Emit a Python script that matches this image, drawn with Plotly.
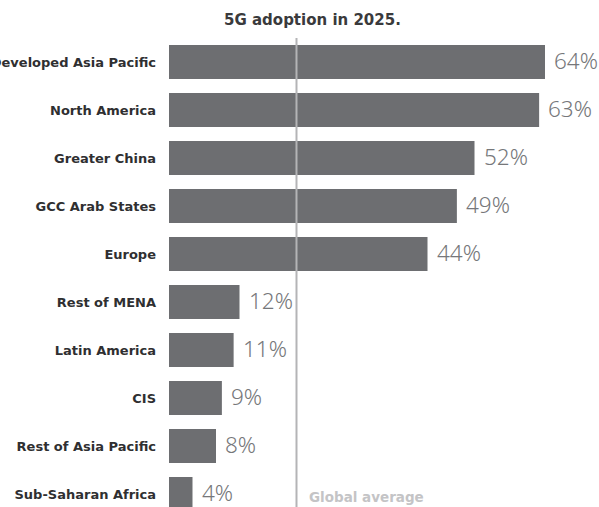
import plotly.graph_objects as go

# 5G adoption share by region, 2025
regions = [
    "Developed Asia Pacific", "North America", "Greater China", "GCC Arab States",
    "Europe", "Rest of MENA", "Latin America", "CIS", "Rest of Asia Pacific",
    "Sub-Saharan Africa",
]
adoption = [64, 63, 52, 49, 44, 12, 11, 9, 8, 4]
global_average = 21.7

BAR = "#6d6e71"
LABEL_FONT = "DejaVu Sans, Verdana, sans-serif"
VALUE_FONT = "Noto Sans, DejaVu Sans, sans-serif"

fig = go.Figure(
    go.Bar(
        x=adoption,
        y=regions,
        orientation="h",
        width=0.71,
        marker=dict(color=BAR, line=dict(width=0)),
        hoverinfo="skip",
    )
)

# value labels beside each bar, light and narrow
for r, v in zip(regions, adoption):
    fig.add_annotation(
        x=v, y=r,
        text=f"{v}%",
        showarrow=False,
        xanchor="left", yanchor="middle", xshift=7, yshift=2,
        font=dict(family=VALUE_FONT, size=22.5, color="#76777a", weight=300),
    )

# global average reference line
fig.add_shape(
    type="line", xref="x", yref="paper",
    x0=global_average, x1=global_average, y0=0, y1=1,
    line=dict(color="#b4b4b6", width=2),
)
fig.add_annotation(
    x=global_average, xref="x", y=0.021, yref="paper",
    text="<b>Global average</b>", showarrow=False,
    xanchor="left", yanchor="middle", xshift=11,
    font=dict(family=LABEL_FONT, size=13.5, color="#c4c4c6"),
)

fig.add_annotation(
    x=(312.5 - 169) / 430, xref="paper", y=1.038, yref="paper",
    text="<b>5G adoption in 2025.</b>", showarrow=False,
    xanchor="center", yanchor="middle",
    font=dict(family=LABEL_FONT, size=15, color="#3a3a3c"),
)

fig.update_layout(
    width=599, height=507,
    margin=dict(l=169, r=0, t=38, b=0),
    paper_bgcolor="white", plot_bgcolor="white",
    showlegend=False,
)
fig.update_xaxes(range=[0, 430 / 5.875], visible=False, fixedrange=True)
fig.update_yaxes(
    type="category",
    categoryorder="array", categoryarray=regions,
    range=[9.27, -0.5],
    showgrid=False, zeroline=False, showline=False,
    ticks="", ticklabelstandoff=12, automargin=False,
    tickfont=dict(family=LABEL_FONT, size=13, color="#2f2f31", weight="bold"),
)

fig.write_html("out.html")
